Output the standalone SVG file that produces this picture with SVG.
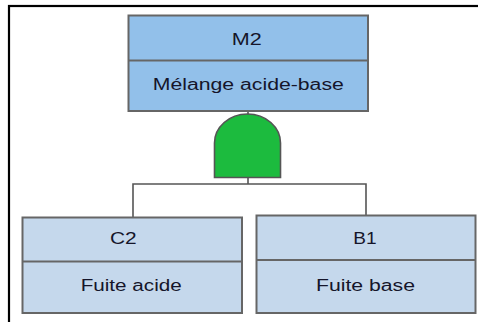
<svg xmlns="http://www.w3.org/2000/svg" width="478" height="322" viewBox="0 0 478 322">
<style>
.box{stroke:#666;stroke-width:2}
.top{fill:#92c0ea}
.leaf{fill:#c5d8ec}
.div{stroke:#666;stroke-width:2}
.conn{stroke:#555;stroke-width:1.6;fill:none}
text{font-family:"Liberation Sans",Arial,sans-serif;font-size:16px;fill:#15152a;text-anchor:middle}
</style>
<rect x="0" y="0" width="478" height="322" fill="#fff"/>
<rect x="9" y="6" width="480" height="330" fill="none" stroke="#000" stroke-width="2.2"/>
<g id="connectors">
<line class="conn" x1="248" y1="110.5" x2="248" y2="115" stroke-width="3"/>
<polyline class="conn" points="248,177.5 248,184"/>
<polyline class="conn" points="133,217.5 133,184 366,184 366,215.5"/>
</g>
<g id="M2">
<rect class="box top" x="128.5" y="15.5" width="239.5" height="95.5"/>
<line class="div" x1="128.5" y1="60.5" x2="368" y2="60.5"/>
<text x="246.7" y="45" textLength="30" lengthAdjust="spacingAndGlyphs">M2</text>
<text x="248.3" y="90" textLength="191" lengthAdjust="spacingAndGlyphs">Mélange acide-base</text>
</g>
<g id="gate">
<path d="M214.5,177.5 V143 A33,29 0 0 1 280.5,143 V177.5 Z" fill="#1cbb3e" stroke="#555" stroke-width="1.6"/>
</g>
<g id="C2">
<rect class="box leaf" x="22.5" y="217.5" width="219.5" height="95.5"/>
<line class="div" x1="22.5" y1="261.5" x2="242" y2="261.5"/>
<text x="123.3" y="244" textLength="26.7" lengthAdjust="spacingAndGlyphs">C2</text>
<text x="131.2" y="290.7" textLength="101" lengthAdjust="spacingAndGlyphs">Fuite acide</text>
</g>
<g id="B1">
<rect class="box leaf" x="256.5" y="215.5" width="219" height="97.5"/>
<line class="div" x1="256.5" y1="260" x2="475.5" y2="260"/>
<text x="365" y="244" textLength="23.3" lengthAdjust="spacingAndGlyphs">B1</text>
<text x="365.5" y="290.7" textLength="99" lengthAdjust="spacingAndGlyphs">Fuite base</text>
</g>
</svg>
